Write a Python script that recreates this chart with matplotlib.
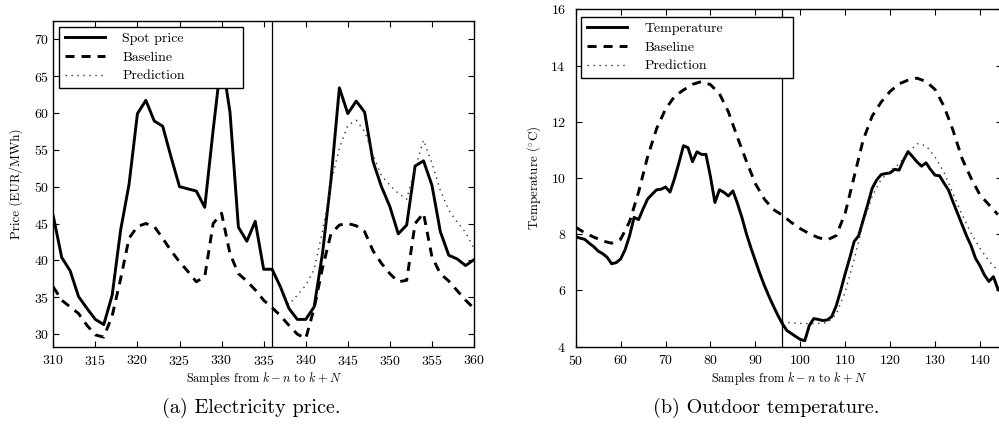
import numpy as np
import matplotlib
matplotlib.use("Agg")
import matplotlib.pyplot as plt

plt.rcParams['font.family'] = ['cmr10']
plt.rcParams['mathtext.fontset'] = 'cm'
plt.rcParams['axes.unicode_minus'] = False
plt.rcParams['axes.formatter.use_mathtext'] = True

# ---------------- (a) Electricity price ----------------
price_x = list(range(310, 361))
spot_price = [46.0, 40.4, 38.6, 35.1, 33.5, 32.0, 31.3, 35.3, 44.1, 50.3,
              59.9, 61.7, 58.9, 58.2, 54.0, 50.0, 49.7, 49.4, 47.2, 57.7,
              67.5, 60.1, 44.5, 42.6, 45.3, 38.8, 38.8, 36.4, 33.5, 32.0,
              32.0, 33.7, 41.0, 50.9, 63.4, 59.9, 61.6, 60.1, 53.4, 50.0,
              47.3, 43.6, 44.8, 52.8, 53.5, 50.2, 43.9, 40.7, 40.2, 39.3,
              40.1]
price_baseline = [36.4, 34.6, 33.7, 32.8, 31.2, 29.9, 29.6, 32.5, 37.5, 43.0,
                  44.6, 45.0, 44.6, 43.0, 41.3, 39.8, 38.5, 37.1, 37.8, 45.0,
                  46.4, 40.9, 38.2, 37.2, 36.0, 34.6, 33.6, 32.5, 31.2, 30.0,
                  29.4, 33.5, 39.0, 43.6, 44.8, 45.0, 44.7, 43.9, 41.3, 39.6,
                  38.2, 37.1, 37.3, 45.0, 46.4, 40.5, 38.2, 37.2, 35.9, 34.6,
                  33.5]
price_pred_x = list(range(337, 361))
price_prediction = [36.4, 34.0, 35.3, 36.6, 38.8, 44.0, 50.5, 55.2, 58.3, 59.0,
                    57.5, 54.3, 51.5, 50.2, 49.1, 48.3, 52.5, 56.3, 53.2, 49.5,
                    46.8, 45.2, 43.8, 41.6]
price_now = 336

# ---------------- (b) Outdoor temperature ----------------
temp_x = list(range(50, 146))
temperature = [7.91, 7.86, 7.82, 7.68, 7.56, 7.40, 7.31, 7.18, 6.95, 6.99,
               7.12, 7.45, 7.95, 8.60, 8.52, 8.90, 9.25, 9.42, 9.58, 9.60,
               9.68, 9.50, 9.98, 10.55, 11.15, 11.08, 10.58, 10.93, 10.84, 10.84,
               10.05, 9.13, 9.58, 9.49, 9.36, 9.54, 9.10, 8.60, 8.02, 7.52,
               7.06, 6.60, 6.18, 5.80, 5.45, 5.12, 4.82, 4.58, 4.47, 4.36,
               4.26, 4.21, 4.75, 5.00, 4.97, 4.93, 4.95, 5.07, 5.45, 6.00,
               6.60, 7.15, 7.74, 7.95, 8.50, 9.05, 9.63, 9.93, 10.12, 10.16,
               10.18, 10.31, 10.28, 10.64, 10.94, 10.76, 10.57, 10.42, 10.54, 10.30,
               10.10, 10.08, 9.82, 9.57, 9.15, 8.75, 8.35, 7.95, 7.60, 7.15,
               6.88, 6.55, 6.32, 6.49, 6.05, 5.90]
temp_base_x = list(range(50, 146, 2))
temp_baseline = [8.25, 8.05, 7.90, 7.76, 7.68, 7.82, 8.45, 9.50, 10.75, 11.75,
                 12.45, 12.90, 13.13, 13.33, 13.43, 13.32, 13.00, 12.35, 11.45, 10.60,
                 9.80, 9.25, 8.88, 8.68, 8.42, 8.20, 8.02, 7.88, 7.80, 7.95,
                 8.75, 10.05, 11.35, 12.20, 12.70, 13.08, 13.35, 13.48, 13.55, 13.43,
                 13.15, 12.55, 11.70, 10.70, 10.00, 9.40, 9.05, 8.70]
temp_pred_x = list(range(96, 146, 2))
temp_prediction = [4.88, 4.85, 4.83, 4.82, 4.83, 4.85, 5.15, 5.95, 7.10, 8.40,
                   9.35, 9.95, 10.25, 10.50, 10.90, 11.22, 11.15, 10.75, 10.20, 9.45,
                   8.70, 8.05, 7.50, 7.05, 6.70]
temp_now = 96

W, H = 999, 426
fig = plt.figure(figsize=(W / 100, H / 100), dpi=100)

def px_axes(x0, y0, x1, y1):
    return fig.add_axes([x0 / W, 1 - y1 / H, (x1 - x0) / W, (y1 - y0) / H])

solid_kw = dict(color='black', lw=2.1, linestyle='-')
dash_kw = dict(color='black', lw=2.1, linestyle=(0, (3.1, 2.4)))
dot_kw = dict(color='0.2', lw=1.0, linestyle=(0, (1, 3.3)))

def style(ax, ypad):
    ax.tick_params(direction='in', top=True, right=True, length=4, width=0.8,
                   labelsize=10)
    ax.tick_params(axis='x', pad=5)
    ax.tick_params(axis='y', pad=ypad)
    for s in ax.spines.values():
        s.set_linewidth(1.0)

leg_kw = dict(loc='upper left', mode='expand', borderaxespad=0, fontsize=10,
              frameon=True, fancybox=False, edgecolor='black', framealpha=1,
              handlelength=2.9, handletextpad=1.25, labelspacing=0.42,
              borderpad=0.42)

# (a)
ax1 = px_axes(53.3, 20.7, 474.0, 346.7)
ax1.plot(price_x, spot_price, label='Spot price', **solid_kw)
ax1.plot(price_x, price_baseline, label='Baseline', **dash_kw)
ax1.plot(price_pred_x, price_prediction, label='Prediction', **dot_kw)
ax1.axvline(price_now, color='black', lw=0.9)
ax1.set_xlim(310, 360)
ax1.set_ylim(28.3, 72.5)
ax1.set_xticks(range(310, 361, 5))
ax1.set_yticks(range(30, 71, 5))
ax1.set_xlabel(r'Samples from $k-n$ to $k+N$', fontsize=8.8, labelpad=1.5)
ax1.set_ylabel('Price (EUR/MWh)', fontsize=9.4, labelpad=8)
style(ax1, 3)
leg1 = ax1.legend(bbox_to_anchor=(0.0135, 0.0, 0.4374, 0.9816), **leg_kw)
leg1.get_frame().set_linewidth(1.0)

# (b)
ax2 = px_axes(575.7, 9.3, 1002.4, 346.7)
ax2.plot(temp_x, temperature, label='Temperature', **solid_kw)
ax2.plot(temp_base_x, temp_baseline, label='Baseline', **dash_kw)
ax2.plot(temp_pred_x, temp_prediction, label='Prediction', **dot_kw)
ax2.axvline(temp_now, color='black', lw=0.9)
ax2.set_xlim(50, 145)
ax2.set_ylim(4, 16)
ax2.set_xticks(range(50, 141, 10))
ax2.set_yticks(range(4, 17, 2))
ax2.set_xlabel(r'Samples from $k-n$ to $k+N$', fontsize=8.8, labelpad=1.5)
ax2.set_ylabel(r'Temperature ($^{\circ}$C)', fontsize=9.4, labelpad=5.5)
style(ax2, 7)
leg2 = ax2.legend(bbox_to_anchor=(0.0124, 0.0, 0.4968, 0.978), **leg_kw)
leg2.get_frame().set_linewidth(1.0)

fig.text(251 / W, 1 - 408 / H, '(a) Electricity price.', ha='center', va='center',
         fontsize=14.5)
fig.text(766 / W, 1 - 408 / H, '(b) Outdoor temperature.', ha='center', va='center',
         fontsize=14.5)

fig.savefig('out.png', dpi=100)
